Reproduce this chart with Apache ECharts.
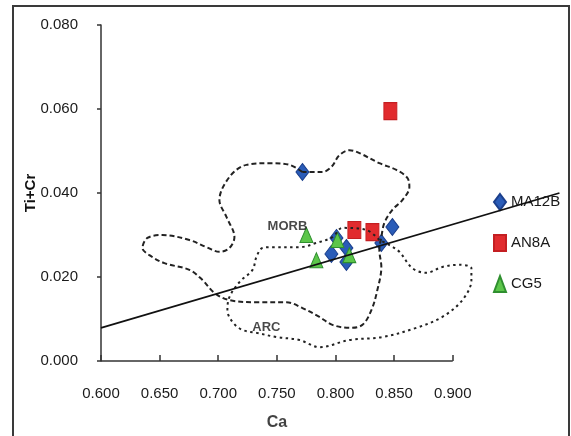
<!DOCTYPE html>
<html>
<head>
<meta charset="utf-8">
<script src="https://cdn.jsdelivr.net/npm/echarts@6/dist/echarts.min.js"></script>
<style>
html,body{margin:0;padding:0;background:#fff;}
#chart{width:571px;height:436px;}
</style>
</head>
<body>
<div id="chart"></div>
<script>
// ---- data (Ca vs Ti+Cr) ----
const xTicks = [0.600, 0.650, 0.700, 0.750, 0.800, 0.850, 0.900];
const yTicks = [0.000, 0.020, 0.040, 0.060, 0.080];

const ma12bCa   = [0.7718, 0.8485, 0.8391, 0.8008, 0.7965, 0.8093, 0.8093];
const ma12bTiCr = [0.0450, 0.0319, 0.0281, 0.0293, 0.0255, 0.0269, 0.0236];

const an8aCa    = [0.8468, 0.8161, 0.8315];
const an8aTiCr  = [0.0595, 0.0312, 0.0307];

const cg5Ca     = [0.7752, 0.7837, 0.8016, 0.8118];
const cg5TiCr   = [0.0300, 0.0240, 0.0288, 0.0252];

// regression line end points
const trendCa   = [0.600, 0.991];
const trendTiCr = [0.0079, 0.0400];

// MORB field outline (dashed)
const morbCa = [0.7718,0.7607,0.7436,0.7240,0.7095,0.7010,0.7070,0.7138,0.7095,0.7010,0.6899,0.6754,0.6524,0.6396,0.6354,0.6413,0.6541,0.6754,0.6865,0.6968,0.7095,0.7326,0.7581,0.7718,0.7863,0.7974,0.8119,0.8229,0.8306,0.8357,0.8391,0.8374,0.8391,0.8417,0.8485,0.8570,0.8630,0.8613,0.8519,0.8374,0.8204,0.8119,0.8033,0.7965,0.7888,0.7777,0.7718];
const morbTiCr = [0.0450,0.0467,0.0471,0.0467,0.0438,0.0383,0.0343,0.0295,0.0269,0.0260,0.0271,0.0288,0.0300,0.0293,0.0269,0.0252,0.0233,0.0217,0.0193,0.0162,0.0145,0.0140,0.0140,0.0126,0.0105,0.0086,0.0079,0.0086,0.0121,0.0169,0.0224,0.0264,0.0295,0.0329,0.0360,0.0383,0.0414,0.0436,0.0455,0.0471,0.0495,0.0502,0.0490,0.0462,0.0450,0.0450,0.0450];

// ARC field outline (dotted)
const arcCa = [0.8374,0.8263,0.8059,0.7974,0.7837,0.7692,0.7462,0.7377,0.7326,0.7292,0.7181,0.7095,0.7078,0.7121,0.7206,0.7326,0.7496,0.7692,0.7863,0.8119,0.8400,0.8690,0.8911,0.9082,0.9159,0.9159,0.9056,0.8911,0.8775,0.8656,0.8545,0.8460,0.8374];
const arcTiCr = [0.0288,0.0312,0.0317,0.0295,0.0281,0.0271,0.0271,0.0269,0.0248,0.0217,0.0188,0.0152,0.0121,0.0093,0.0074,0.0067,0.0057,0.0050,0.0033,0.0050,0.0057,0.0079,0.0105,0.0145,0.0193,0.0221,0.0229,0.0224,0.0210,0.0221,0.0260,0.0276,0.0288];

const fieldNames = ['MORB', 'ARC'];
const fieldCa    = [0.759, 0.741];
const fieldTiCr  = [0.0321, 0.0081];

const xTitle = 'Ca';
const yTitle = 'Ti+Cr';

const zip = (a, b) => a.map((v, i) => [v, b[i]]);

const FONT = '"Liberation Sans", Arial, sans-serif';
const AXIS_COLOR = '#333';

const chart = echarts.init(document.getElementById('chart'), null, {renderer: 'canvas'});
chart.setOption({
  animation: false,
  backgroundColor: '#ffffff',
  graphic: [{
    type: 'rect',
    shape: {x: 13, y: 6, width: 556, height: 450},
    style: {fill: 'none', stroke: '#3a3a3a', lineWidth: 2},
    silent: true
  }],
  // x axis runs on to 1.0 so the trend line and ARC field can pass the last tick
  grid: {left: 101, top: 25, right: 1, bottom: 75},
  legend: {
    orient: 'vertical',
    left: 488,
    top: 188,
    itemWidth: 12,
    itemHeight: 16,
    itemGap: 23,
    data: ['MA12B', 'AN8A', 'CG5'],
    textStyle: {fontFamily: FONT, fontSize: 15, color: '#1a1a1a'}
  },
  xAxis: {
    type: 'value',
    min: 0.6, max: 1.0, interval: 0.05,
    axisLine: {show: false},
    axisTick: {show: true, inside: true, length: 6, customValues: xTicks,
      lineStyle: {color: AXIS_COLOR, width: 1.5}},
    axisLabel: {margin: 25, fontFamily: FONT, fontSize: 15, color: '#1a1a1a', customValues: xTicks,
      formatter: v => v.toFixed(3)},
    splitLine: {show: false}
  },
  yAxis: {
    type: 'value',
    min: 0, max: 0.08, interval: 0.02,
    name: yTitle,
    nameLocation: 'middle',
    nameGap: 63,
    nameMoveOverlap: false,
    nameRotate: 90,
    nameTextStyle: {fontFamily: FONT, fontSize: 15, fontWeight: 'bold', color: '#111'},
    axisLine: {show: true, lineStyle: {color: AXIS_COLOR, width: 1.5}},
    axisTick: {show: true, inside: false, length: 4, lineStyle: {color: AXIS_COLOR, width: 1.5}},
    axisLabel: {margin: 23, fontFamily: FONT, fontSize: 15, color: '#1a1a1a',
      formatter: v => v.toFixed(3)},
    splitLine: {show: false}
  },
  series: [
    {
      name: 'MA12B', type: 'scatter', symbol: 'diamond', symbolSize: [13, 17], z: 3,
      itemStyle: {color: '#2a5cb8', borderColor: '#1b3f8c', borderWidth: 1, opacity: 1},
      data: zip(ma12bCa, ma12bTiCr)
    },
    {
      name: 'AN8A', type: 'scatter', symbol: 'rect', symbolSize: [13, 17], z: 3,
      itemStyle: {color: '#e12b2e', borderColor: '#c41f22', borderWidth: 1, opacity: 1},
      data: zip(an8aCa, an8aTiCr)
    },
    {
      name: 'CG5', type: 'scatter', symbol: 'triangle', symbolSize: [13, 15], z: 3,
      itemStyle: {color: '#5cc64a', borderColor: '#2f8f2f', borderWidth: 1, opacity: 1},
      data: zip(cg5Ca, cg5TiCr)
    },
    {
      name: 'MORB field', type: 'line', smooth: 0.35, symbol: 'none', z: 4,
      lineStyle: {color: '#222', width: 2, type: [5, 3]},
      data: zip(morbCa, morbTiCr)
    },
    {
      name: 'ARC field', type: 'line', smooth: 0.35, symbol: 'none', z: 4,
      lineStyle: {color: '#222', width: 2, type: [2.5, 3.5]},
      data: zip(arcCa, arcTiCr)
    },
    {
      name: 'Trend', type: 'line', symbol: 'none', z: 5,
      lineStyle: {color: '#111', width: 1.8},
      data: zip(trendCa, trendTiCr),
      // visible x axis line, from the first to the last labelled tick
      markLine: {
        silent: true, symbol: 'none', label: {show: false},
        lineStyle: {color: AXIS_COLOR, width: 1.5, type: 'solid'},
        data: [[{coord: [xTicks[0], yTicks[0]]}, {coord: [xTicks[xTicks.length - 1], yTicks[0]]}]]
      }
    },
    {
      name: 'Field labels', type: 'scatter', symbolSize: 0, z: 6,
      label: {show: true, position: 'inside', formatter: p => p.value[2],
        fontFamily: FONT, fontSize: 13, fontWeight: 'bold', color: '#1a1a1a'},
      data: fieldNames.map((n, i) => [fieldCa[i], fieldTiCr[i], n])
    },
    {
      // x axis title, centred under the labelled range (0.600–0.900)
      name: 'Axis title', type: 'scatter', symbolSize: 0, z: 6,
      label: {show: true, position: 'inside', formatter: xTitle,
        fontFamily: FONT, fontSize: 16, fontWeight: 'bold', color: '#111'},
      labelLayout: {dy: 62},
      data: [[(xTicks[0] + xTicks[xTicks.length - 1]) / 2, yTicks[0]]]
    }
  ]
});
</script>
</body>
</html>
